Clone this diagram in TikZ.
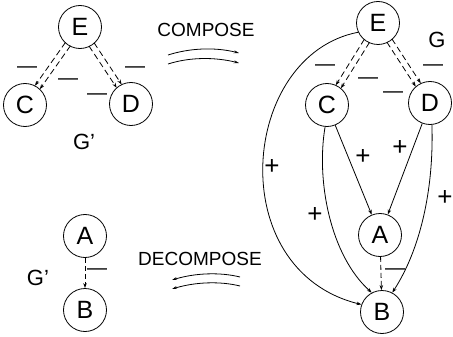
\documentclass[tikz,border=0pt]{standalone}
\usepackage{fontspec}
\setmainfont{Liberation Sans}
\usetikzlibrary{arrows.meta,calc}
\begin{document}
\begin{tikzpicture}[x=1pt,y=-1pt,
  vtx/.style={circle,draw,line width=0.8pt,minimum size=43pt,inner sep=0pt,font=\fontsize{25}{25}\selectfont},
  lbl/.style={font=\fontsize{22}{22}\selectfont,inner sep=0pt},
  word/.style={font=\fontsize{19}{19}\selectfont,inner sep=0pt},
  mns/.style={font=\fontsize{20}{20}\selectfont,inner sep=0pt},
  pls/.style={font=\fontsize{26}{26}\selectfont,inner sep=0pt},
  tip/.style={-{Stealth[length=5pt,width=3.5pt]}},
  edge/.style={line width=0.8pt,tip},
  dd/.style={line width=0.8pt,dash pattern=on 6pt off 3.5pt,tip,shorten <=21pt,shorten >=21.5pt},
  da/.style={line width=0.8pt,dash pattern=on 5pt off 3pt,tip},
  arr/.style={line width=0.8pt,-{Stealth[length=5pt,width=3pt]}}]
\useasboundingbox (0,0) rectangle (453,337);
% left top graph G'
\node[vtx] (E1) at (80,27) {E};
\node[vtx] (C1) at (25,105) {C};
\node[vtx] (D1) at (131,104) {D};
\draw[dd] ($(E1)!3pt!90:(C1)$) -- ($(C1)!3pt!-90:(E1)$);
\draw[dd] ($(E1)!3pt!-90:(C1)$) -- ($(C1)!3pt!90:(E1)$);
\draw[dd] ($(E1)!3pt!90:(D1)$) -- ($(D1)!3pt!-90:(E1)$);
\draw[dd] ($(E1)!3pt!-90:(D1)$) -- ($(D1)!3pt!90:(E1)$);
\node[mns] (m1) at (27,70) {—};
\node[mns] (m2) at (68,82) {—};
\node[mns] (m3) at (97,97) {—};
\node[mns] (m4) at (135,70) {—};
\node[lbl] (g1) at (84,142) {G'};
% compose
\node[word] (comp) at (206,30) {COMPOSE};
\coordinate (ca1) at (168,55); \coordinate (ca2) at (239,53);
\coordinate (cb1) at (168,64); \coordinate (cb2) at (239,63);
\draw[arr] (ca1) .. controls (190,48) and (215,47) .. (ca2);
\draw[arr] (cb1) .. controls (190,57) and (215,57) .. (cb2);
% decompose
\node[word] (decomp) at (200,259) {DECOMPOSE};
\coordinate (da1) at (240,277); \coordinate (da2) at (172,280);
\coordinate (db1) at (240,286); \coordinate (db2) at (172,289);
\draw[arr] (da1) .. controls (220,272) and (195,273) .. (da2);
\draw[arr] (db1) .. controls (220,281) and (195,282) .. (db2);
% left bottom graph G'
\node[vtx] (A1) at (85,236) {A};
\node[vtx] (B1) at (85,310) {B};
\draw[da] (A1) -- (B1);
\node[mns] (m5) at (97,272) {—};
\node[lbl] (g2) at (38,278) {G'};
% right graph G
\node[vtx] (E) at (378,23) {E};
\node[vtx] (C) at (327,105) {C};
\node[vtx] (D) at (430,103) {D};
\node[vtx] (A) at (380,235) {A};
\node[vtx] (B) at (382,312) {B};
\node[lbl] (g) at (437,40) {G};
\draw[dd] ($(E)!3pt!90:(C)$) -- ($(C)!3pt!-90:(E)$);
\draw[dd] ($(E)!3pt!-90:(C)$) -- ($(C)!3pt!90:(E)$);
\draw[dd] ($(E)!3pt!90:(D)$) -- ($(D)!3pt!-90:(E)$);
\draw[dd] ($(E)!3pt!-90:(D)$) -- ($(D)!3pt!90:(E)$);
\node[mns] (m6) at (325,68) {—};
\node[mns] (m7) at (368,81) {—};
\node[mns] (m8) at (393,95) {—};
\node[mns] (m9) at (433,68) {—};
\draw[edge] (E.205) .. controls (240,55) and (222,270) .. (B.160);
\draw[edge] (C.265) .. controls (316,180) and (330,255) .. (B.118);
\draw[edge] (D.-85) .. controls (434,190) and (420,250) .. (B.62);
\draw[edge] (C) -- (A);
\draw[edge] (D) -- (A);
\draw[da] (A) -- (B);
\node[pls] (p1) at (272,167) {+};
\node[pls] (p2) at (315,215) {+};
\node[pls] (p3) at (363,157) {+};
\node[pls] (p4) at (400,148) {+};
\node[pls] (p5) at (445,198) {+};
\node[mns] (m10) at (395,272) {—};
\end{tikzpicture}
\end{document}
